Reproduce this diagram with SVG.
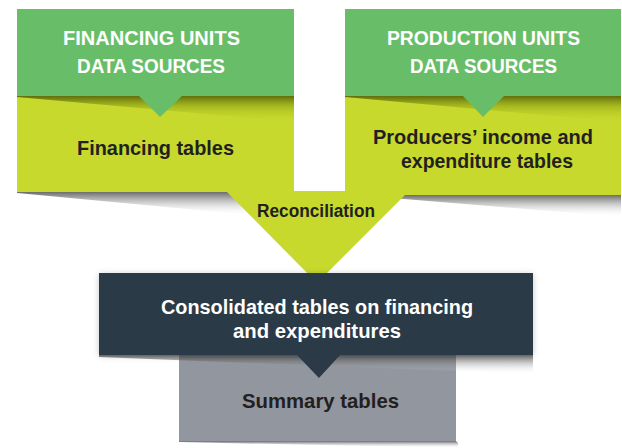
<svg xmlns="http://www.w3.org/2000/svg" width="622" height="448" viewBox="0 0 622 448">
<defs>
<linearGradient id="shGray" x1="0" y1="0" x2="0" y2="1">
<stop offset="0" stop-color="#3a3a3a" stop-opacity="0.75"/>
<stop offset="0.45" stop-color="#7a7a7a" stop-opacity="0.35"/>
<stop offset="1" stop-color="#ffffff" stop-opacity="0"/>
</linearGradient>
<linearGradient id="shOlive" x1="0" y1="0" x2="0" y2="1">
<stop offset="0" stop-color="#3e4a00" stop-opacity="0.75"/>
<stop offset="0.4" stop-color="#6f7d0a" stop-opacity="0.35"/>
<stop offset="1" stop-color="#c6d92c" stop-opacity="0"/>
</linearGradient>
<filter id="soft" x="-10%" y="-20%" width="120%" height="140%">
<feDropShadow dx="0" dy="1" stdDeviation="3" flood-color="#000" flood-opacity="0.22"/>
</filter>
</defs>
<style>
.green{fill:#68be68}
.lime{fill:#c6d92c}
.dark{fill:#2b3a46}
.gray{fill:#92969e}
text{font-family:"Liberation Sans",Arial,sans-serif;font-weight:bold;text-anchor:middle}
.w{fill:#ffffff;font-size:21px}
.k{fill:#231f20;font-size:21px}
</style>
<rect width="622" height="448" fill="#ffffff"/>

<!-- shadows under lime boxes -->
<polygon points="17,192 260,192 260,216 17,193" fill="url(#shGray)"/>
<polygon points="380,195 621,195 621,217 380,197" fill="url(#shGray)"/>

<g id="financing-tables">
<rect class="lime" x="17" y="96" width="277" height="96"/>
<polygon points="17,96 294,96 294,122 17,97" fill="url(#shOlive)"/>
<text class="k" x="155.5" y="155" textLength="157" lengthAdjust="spacingAndGlyphs">Financing tables</text>
</g>

<g id="producers-tables">
<rect class="lime" x="345" y="96" width="276" height="99"/>
<polygon points="345,96 621,96 621,122 345,97" fill="url(#shOlive)"/>
<text class="k" x="483" y="144" textLength="220" lengthAdjust="spacingAndGlyphs">Producers’ income and</text>
<text class="k" x="487" y="168" textLength="172" lengthAdjust="spacingAndGlyphs">expenditure tables</text>
</g>

<g id="reconciliation">
<path class="lime" d="M227,192 L227,188 L294,188 L294,191 L345,191 L345,188 L405,188 L405,195 L317,283 Z"/>
<text fill="#231f20" x="316" y="217" font-size="18" textLength="118" lengthAdjust="spacingAndGlyphs">Reconciliation</text>
</g>

<g id="financing-sources">
<rect class="green" x="17" y="9" width="277" height="87"/>
<text class="w" x="151.5" y="45" textLength="177" lengthAdjust="spacingAndGlyphs">FINANCING UNITS</text>
<text class="w" x="151" y="73" textLength="148" lengthAdjust="spacingAndGlyphs">DATA SOURCES</text>
</g>

<g id="production-sources">
<rect class="green" x="345" y="9" width="276" height="87"/>
<text class="w" x="483.5" y="45" textLength="193" lengthAdjust="spacingAndGlyphs">PRODUCTION UNITS</text>
<text class="w" x="483.5" y="73" textLength="147" lengthAdjust="spacingAndGlyphs">DATA SOURCES</text>
</g>

<g id="summary">
<rect class="gray" x="179" y="355" width="277" height="86"/>
<polygon points="179,441 456,441 458,443 458,448 179,442" fill="url(#shGray)"/>
<text class="k" x="320.5" y="408" textLength="157" lengthAdjust="spacingAndGlyphs">Summary tables</text>
</g>

<g id="consolidated">
<rect class="dark" x="99" y="273" width="434" height="82" filter="url(#soft)"/>
<polygon points="99,355 533,355 533,374 99,357" fill="url(#shGray)"/>
<text class="w" x="317" y="314" textLength="312" lengthAdjust="spacingAndGlyphs">Consolidated tables on financing</text>
<text class="w" x="317" y="338" textLength="168" lengthAdjust="spacingAndGlyphs">and expenditures</text>
</g>

<g id="connectors">
<polygon class="green" points="138,95 183,95 160,117"/>
<polygon class="green" points="462,95 505,95 483,117"/>
<polygon class="dark" points="296,354 341,354 319,378"/>
</g>
</svg>
